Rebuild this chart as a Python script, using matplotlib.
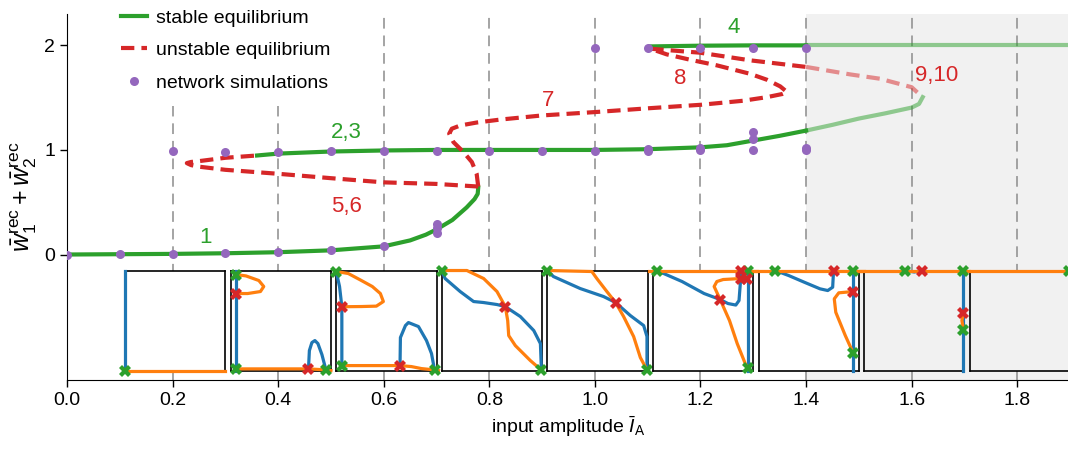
import numpy as np
import matplotlib.pyplot as plt
from matplotlib.lines import Line2D

plt.rcParams['font.family'] = ['Liberation Sans', 'DejaVu Sans']
plt.rcParams['mathtext.fontset'] = 'custom'
plt.rcParams['mathtext.rm'] = 'Liberation Sans'
plt.rcParams['mathtext.it'] = 'Liberation Sans:italic'

GREEN = '#2ca02c'
RED = '#d62728'
PURPLE = '#9467bd'
BLUE = '#1f77b4'
ORANGE = '#ff7f0e'

# --- bifurcation branches (input amplitude, w1 + w2) ---
low_I = [0.0, 0.1, 0.2, 0.3, 0.4, 0.5, 0.6, 0.65, 0.68, 0.7, 0.73, 0.757, 0.772, 0.778, 0.779]
low_W = [0.0, 0.003, 0.006, 0.012, 0.022, 0.04, 0.078, 0.135, 0.19, 0.24, 0.33, 0.45, 0.53, 0.58, 0.64]

mid_I = [0.36, 0.4, 0.5, 0.6, 0.7, 0.8, 0.9, 1.0, 1.1, 1.2, 1.25, 1.3, 1.35, 1.4]
mid_W = [0.947, 0.965, 0.985, 0.995, 1.0, 1.0, 1.0, 1.0, 1.007, 1.025, 1.045, 1.09, 1.135, 1.185]
mid_fade_I = [1.4, 1.45, 1.5, 1.55, 1.6, 1.614, 1.621]
mid_fade_W = [1.185, 1.24, 1.30, 1.35, 1.405, 1.44, 1.505]

top_I = [1.105, 1.2, 1.3, 1.4]
top_W = [1.99, 1.997, 2.0, 2.0]
top_fade_I = [1.4, 1.9]
top_fade_W = [2.0, 2.0]

red56_I = [0.779, 0.7, 0.6, 0.5, 0.4, 0.3, 0.25, 0.235, 0.227, 0.235, 0.25, 0.3, 0.36]
red56_W = [0.65, 0.675, 0.69, 0.73, 0.772, 0.81, 0.84, 0.855, 0.874, 0.885, 0.893, 0.925, 0.947]

red78_I = [0.779, 0.776, 0.767, 0.751, 0.732, 0.724, 0.729, 0.745, 0.776, 0.82, 0.9, 1.0, 1.1,
           1.201, 1.28, 1.326, 1.355, 1.364, 1.351, 1.326, 1.294, 1.231, 1.18, 1.136, 1.105]
red78_W = [0.65, 0.772, 0.884, 0.98, 1.075, 1.155, 1.203, 1.234, 1.262, 1.29, 1.33, 1.362, 1.398,
           1.432, 1.47, 1.505, 1.535, 1.554, 1.608, 1.671, 1.728, 1.809, 1.863, 1.914, 1.968]

red910_I = [1.105, 1.199, 1.294, 1.4]
red910_W = [1.968, 1.93, 1.857, 1.794]
red910_fade_I = [1.4, 1.484, 1.54, 1.6, 1.61, 1.621]
red910_fade_W = [1.794, 1.722, 1.681, 1.60, 1.554, 1.505]

# --- network simulations ---
sim_I = [0.0, 0.1, 0.2, 0.2, 0.3, 0.3, 0.4, 0.4, 0.5, 0.5, 0.6, 0.6, 0.7, 0.7, 0.7, 0.7,
         0.8, 0.9, 1.0, 1.0, 1.1, 1.1, 1.1, 1.2, 1.2, 1.2, 1.3, 1.3, 1.3, 1.3, 1.4, 1.4, 1.4]
sim_W = [0.0, 0.005, 0.005, 0.99, 0.01, 0.985, 0.02, 0.985, 0.04, 0.99, 0.08, 0.99, 0.21, 0.25, 0.29, 0.99,
         0.99, 0.99, 0.99, 1.975, 0.99, 1.01, 1.975, 1.0, 1.02, 1.975, 1.0, 1.1, 1.17, 1.975, 1.0, 1.02, 1.975]

# --- branch labels ---
lab_text = ['1', '2,3', '4', '5,6', '7', '8', '9,10']
lab_I = [0.263, 0.53, 1.262, 0.53, 0.911, 1.161, 1.648]
lab_W = [0.166, 1.17, 2.175, 0.46, 1.47, 1.68, 1.71]
lab_col = [GREEN, GREEN, GREEN, RED, RED, RED, RED]

# --- phase plane insets (normalised coords inside each box) ---
inset_I = [0.2, 0.4, 0.6, 0.8, 1.0, 1.2, 1.4, 1.6, 1.8]

blue_curves = [
    [([0, 0], [0, 1])],
    [([0.05, 0.05], [0, 1]),
     ([0.776, 0.785, 0.81, 0.84, 0.87, 0.91, 0.95], [0.017, 0.2, 0.28, 0.30, 0.27, 0.16, 0.007])],
    [([0, 0.033, 0.056, 0.056], [0.99, 0.84, 0.64, 0.03]),
     ([0.636, 0.64, 0.69, 0.72, 0.82, 0.90, 0.95, 0.98], [0.05, 0.33, 0.45, 0.48, 0.44, 0.30, 0.17, 0.007])],
    [([0, 0.033, 0.183, 0.317, 0.417, 0.55, 0.633, 0.783, 0.917, 0.983, 0.993],
      [1, 0.92, 0.79, 0.69, 0.68, 0.66, 0.64, 0.54, 0.40, 0.27, 0.007])],
    [([0, 0.06, 0.327, 0.56, 0.68, 0.827, 0.96, 0.993, 0.993],
      [1, 0.94, 0.82, 0.74, 0.68, 0.55, 0.45, 0.34, 0.007])],
    [([0.038, 0.29, 0.51, 0.67, 0.748, 0.826, 0.858, 0.874, 0.874],
      [1, 0.89, 0.77, 0.71, 0.67, 0.655, 0.70, 0.91, 1.0]),
     ([0.943, 0.943], [0, 1])],
    [([0.167, 0.30, 0.456, 0.613, 0.69, 0.739, 0.748], [1, 0.95, 0.883, 0.817, 0.80, 0.833, 1]),
     ([0.943, 0.943], [0, 1])],
    [([0.409, 0.5, 0.575], [1, 0.985, 1]), ([0.99, 0.99], [0, 1])],
    [],
]

orange_curves = [
    [([0, 1], [0, 0])],
    [([0.05, 0.153, 0.281, 0.33, 0.297, 0.17, 0.05], [0.96, 0.946, 0.90, 0.84, 0.79, 0.77, 0.77]),
     ([0.05, 0.776, 0.95, 1.0], [0.017, 0.017, 0.007, 0.0])],
    [([0, 0.12, 0.24, 0.36, 0.44, 0.47, 0.40, 0.25, 0.056], [0.99, 0.97, 0.906, 0.84, 0.77, 0.69, 0.644, 0.64, 0.638]),
     ([0.056, 0.636, 0.75, 0.85, 0.98, 1.02], [0.05, 0.05, 0.04, 0.02, 0.007, 0.0])],
    [([0, 0.25, 0.417, 0.55, 0.633, 0.657, 0.667, 0.733, 0.883, 0.99],
      [1, 1, 0.92, 0.79, 0.64, 0.50, 0.35, 0.25, 0.10, 0.007])],
    [([0, 0.443, 0.493, 0.593, 0.68, 0.76, 0.86, 0.927, 0.993],
      [1, 0.99, 0.92, 0.79, 0.68, 0.54, 0.34, 0.13, 0.007])],
    [([-0.04, 1.04], [1, 1]),
     ([0.937, 0.874, 0.70, 0.637, 0.61, 0.67, 0.763, 0.84, 0.92, 0.943],
      [0.92, 0.92, 0.91, 0.89, 0.84, 0.71, 0.50, 0.27, 0.07, 0.03])],
    [([-0.05, 1.05], [1, 1]),
     ([0.943, 0.80, 0.755, 0.77, 0.865, 0.943], [0.79, 0.777, 0.717, 0.583, 0.35, 0.177])],
    [([-0.05, 1.05], [1, 1]), ([0.99, 0.975, 0.99], [0.577, 0.50, 0.41])],
    [([0, 1], [1, 1])],
]

stable_fp = [
    [(0, 0)],
    [(0.05, 0.96), (0.05, 0.017), (0.95, 0.007)],
    [(0, 0.99), (0.056, 0.05), (0.98, 0.007)],
    [(0, 1), (0.99, 0.007)],
    [(0, 1), (0.993, 0.007)],
    [(0.038, 1), (0.943, 1), (0.943, 0.03)],
    [(0.167, 1), (0.943, 1), (0.943, 0.177)],
    [(0.409, 1), (0.99, 1), (0.99, 0.41)],
    [(0.99, 1)],
]

unstable_fp = [
    [],
    [(0.05, 0.77), (0.776, 0.017)],
    [(0.056, 0.64), (0.636, 0.05)],
    [(0.633, 0.64)],
    [(0.68, 0.68)],
    [(0.67, 0.71), (0.874, 1), (0.874, 0.92), (0.937, 0.92)],
    [(0.748, 1), (0.943, 0.79)],
    [(0.575, 1), (0.99, 0.577)],
    [],
]

fig = plt.figure(figsize=(10.68, 4.5), dpi=100)
ax = fig.add_axes([67 / 1068, 70 / 450, 1003 / 1068, 366 / 450])
ax.set_xlim(0, 1.9)
ax.set_ylim(-1.2, 2.3)

ax.axvspan(1.4, 1.9, color='#f1f1f1', lw=0, zorder=0)
xt = [0.0, 0.2, 0.4, 0.6, 0.8, 1.0, 1.2, 1.4, 1.6, 1.8]
for xv in xt[1:]:
    ax.axvline(xv, color='#8c8c8c', lw=1.1, dashes=(7, 4.5), zorder=1)

lw = 3
dsh = (3.2, 1.7)
ax.plot(low_I, low_W, color=GREEN, lw=lw, zorder=3)
ax.plot(mid_I, mid_W, color=GREEN, lw=lw, zorder=3)
ax.plot(mid_fade_I, mid_fade_W, color=GREEN, lw=lw, alpha=0.5, zorder=3)
ax.plot(top_I, top_W, color=GREEN, lw=lw, zorder=3)
ax.plot(top_fade_I, top_fade_W, color=GREEN, lw=lw, alpha=0.5, zorder=3)
ax.plot(red56_I, red56_W, color=RED, lw=lw, dashes=dsh, zorder=3)
ax.plot(red78_I, red78_W, color=RED, lw=lw, dashes=dsh, zorder=3)
ax.plot(red910_I, red910_W, color=RED, lw=lw, dashes=dsh, zorder=3)
ax.plot(red910_fade_I, red910_fade_W, color=RED, lw=lw, dashes=dsh, alpha=0.5, zorder=3)
ax.plot(sim_I, sim_W, 'o', color=PURPLE, ms=6.5, mew=0, zorder=4)

for t, xi, yi, c in zip(lab_text, lab_I, lab_W, lab_col):
    ax.text(xi, yi, t, color=c, fontsize=16, ha='center', va='center', zorder=4)

for k, I0 in enumerate(inset_I):
    iax = ax.inset_axes([I0 - 0.09, -1.11, 0.19, 0.957], transform=ax.transData, zorder=5)
    iax.set_xlim(0, 1)
    iax.set_ylim(0, 1)
    iax.set_xticks([])
    iax.set_yticks([])
    iax.set_facecolor('white' if I0 < 1.5 else '#f1f1f1')
    for sp in iax.spines.values():
        sp.set_linewidth(1.2)
        sp.set_zorder(1)
    for bx, by in blue_curves[k]:
        iax.plot(bx, by, color=BLUE, lw=2.3, clip_on=False, zorder=3)
    for ox, oy in orange_curves[k]:
        iax.plot(ox, oy, color=ORANGE, lw=2.3, clip_on=False, zorder=3)
    for px, py in stable_fp[k]:
        iax.plot(px, py, 'X', color=GREEN, ms=8.5, mew=0, clip_on=False, zorder=4)
    for px, py in unstable_fp[k]:
        iax.plot(px, py, 'X', color=RED, ms=8.5, mew=0, clip_on=False, zorder=4)

ax.spines['top'].set_visible(False)
ax.spines['right'].set_visible(False)
ax.set_xticks(xt)
ax.set_xticklabels(['%.1f' % v for v in xt])
ax.set_yticks([0, 1, 2])
ax.tick_params(labelsize=14, length=5, width=1)
ax.set_xlabel(r'input amplitude $\bar{I}_{\rm A}$', fontsize=14)
ax.set_ylabel(r'$\bar{w}_1^{\rm rec} + \bar{w}_2^{\rm rec}$', fontsize=18, labelpad=4)

handles = [Line2D([], [], color=GREEN, lw=lw),
           Line2D([], [], color=RED, lw=lw, dashes=dsh),
           Line2D([], [], color=PURPLE, marker='o', ls='none', ms=6.5, mew=0)]
leg = fig.legend(handles, ['stable equilibrium', 'unstable equilibrium', 'network simulations'],
                 loc='upper left', bbox_to_anchor=(97 / 1068, 1 + 15 / 450), fontsize=14,
                 frameon=True, facecolor='white', edgecolor='none', framealpha=1,
                 handlelength=1.3, handletextpad=0.5, labelspacing=0.76, borderpad=0.75)
leg.set_zorder(6)

fig.savefig('out.png', dpi=100)
